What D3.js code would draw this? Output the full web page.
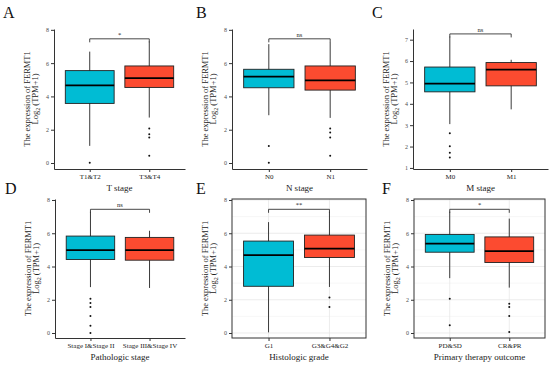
<!DOCTYPE html>
<html>
<head>
<meta charset="utf-8">
<script src="https://cdn.jsdelivr.net/npm/d3@7"></script>
<style>
  body { margin: 0; background: #fff; }
  text { font-family: "Liberation Serif", "DejaVu Serif", serif; }
</style>
</head>
<body>
<div id="chart"></div>
<script>
// panel letters, groups and titles
var letters = ["A", "B", "C", "D", "E", "F"];
var groups = [
    ["T1&T2", "T3&T4"],
    ["N0", "N1"],
    ["M0", "M1"],
    ["Stage I&Stage II", "Stage III&Stage IV"],
    ["G1", "G3&G4&G2"],
    ["PD&SD", "CR&PR"]
];
var xTitles = ["T stage", "N stage", "M stage", "Pathologic stage", "Histologic grade", "Primary therapy outcome"];
var sigLabels = ["*", "ns", "ns", "ns", "**", "*"];

// box stats per group: [lower whisker, q1, median, q3, upper whisker]
var statsA = [[1.03, 3.58, 4.66, 5.55, 6.69], [2.73, 4.54, 5.1, 5.83, 7.3]];
var statsB = [[2.87, 4.52, 5.19, 5.63, 7.14], [2.71, 4.38, 4.96, 5.83, 7.26]];
var statsC = [[3.05, 4.56, 4.94, 5.72, 7.15], [3.74, 4.84, 5.6, 5.93, 6.06]];
var statsD = [[2.76, 4.42, 4.98, 5.83, 7.3], [2.71, 4.38, 4.98, 5.75, 6.15]];
var statsE = [[0.04, 2.81, 4.68, 5.53, 6.67], [2.77, 4.54, 5.08, 5.89, 7.3]];
var statsF = [[3.3, 4.86, 5.38, 5.93, 7.3], [2.73, 4.24, 4.92, 5.78, 6.88]];

// outlier points per group
var outA = [[0.02], [2.07, 1.73, 1.53, 0.44]];
var outB = [[1.02, 0.02], [2.07, 1.83, 1.53, 0.44]];
var outC = [[2.62, 2.02, 1.71, 1.49], []];
var outD = [[2.06, 1.81, 1.57, 1.03, 0.44, 0.0], []];
var outE = [[], [2.13, 1.57]];
var outF = [[2.06, 0.46], [1.76, 1.57, 1.03, 0.06]];

var bracketVals = [7.46, 7.46, 7.27, 7.44, 7.44, 7.44];
var yTicksMain = [0, 2, 4, 6, 8];
var yTicksC = [1, 2, 3, 4, 5, 6, 7];
var yDomains = [[-0.36, 8.05], [-0.36, 8.05], [0.95, 7.5], [-0.3, 8.06], [-0.3, 8.06], [-0.3, 8.06]];

var allStats = [statsA, statsB, statsC, statsD, statsE, statsF];
var allOut = [outA, outB, outC, outD, outE, outF];
var fills = ["#00BCD4", "#FC4B30"];

var width = 550, height = 365;

// layout: plot area per panel
var lefts = [54, 232, 413, 55, 232, 414];
var rights = [185, 367, 548, 185, 366, 545];
var rowRange = [[169, 29], [338, 199]];
var letterPos = [[3, 18], [196, 18], [372, 18], [5, 194], [196, 194], [382, 194]];

var svg = d3.select("#chart").append("svg")
    .attr("width", width)
    .attr("height", height);

letters.forEach(function(letter, i) {
    var row = i < 3 ? 0 : 1;
    var framed = i >= 4;
    var left = lefts[i], right = rights[i];
    var bottom = rowRange[row][0], top = rowRange[row][1];

    var x = d3.scaleLinear().domain([0.4, 2.6]).range([left, right]);
    var y = d3.scaleLinear().domain(yDomains[i]).range([bottom, top]);
    var ticks = i === 2 ? yTicksC : yTicksMain;

    var g = svg.append("g");

    // panel letter
    svg.append("text")
        .attr("x", letterPos[i][0])
        .attr("y", letterPos[i][1])
        .attr("font-size", 16)
        .attr("fill", "#111")
        .text(letter);

    if (framed) {
        // grid for theme_bw panels
        var minor = d3.range(Math.ceil(yDomains[i][0]), Math.floor(yDomains[i][1]) + 1);
        g.selectAll(".grid-h").data(minor).enter().append("line")
            .attr("x1", left).attr("x2", right)
            .attr("y1", function(d) { return y(d); })
            .attr("y2", function(d) { return y(d); })
            .attr("stroke", function(d) { return d % 2 === 0 ? "#e4e4e4" : "#efefef"; })
            .attr("stroke-width", function(d) { return d % 2 === 0 ? 0.7 : 0.5; });
        g.selectAll(".grid-v").data([1, 2]).enter().append("line")
            .attr("x1", function(d) { return x(d); })
            .attr("x2", function(d) { return x(d); })
            .attr("y1", top).attr("y2", bottom)
            .attr("stroke", "#e4e4e4")
            .attr("stroke-width", 0.7);
    }

    var stats = allStats[i];
    var boxW = 0.82 * (x(2) - x(1));

    stats.forEach(function(s, k) {
        var cx = x(k + 1);
        // whisker
        g.append("line")
            .attr("x1", cx).attr("x2", cx)
            .attr("y1", y(s[0])).attr("y2", y(s[4]))
            .attr("stroke", "#3a3a3a")
            .attr("stroke-width", 1);
        // box
        g.append("rect")
            .attr("x", cx - boxW / 2)
            .attr("y", y(s[3]))
            .attr("width", boxW)
            .attr("height", y(s[1]) - y(s[3]))
            .attr("fill", fills[k])
            .attr("stroke", "#222")
            .attr("stroke-width", 0.9);
        // median
        g.append("line")
            .attr("x1", cx - boxW / 2).attr("x2", cx + boxW / 2)
            .attr("y1", y(s[2])).attr("y2", y(s[2]))
            .attr("stroke", "#000")
            .attr("stroke-width", 1.8);
        // outliers
        g.selectAll(".out" + k).data(allOut[i][k]).enter().append("circle")
            .attr("cx", cx)
            .attr("cy", function(d) { return y(d); })
            .attr("r", 1)
            .attr("fill", "#111");
    });

    // significance bracket
    var by = y(bracketVals[i]);
    g.append("path")
        .attr("d", "M" + x(1) + "," + (by + 3.5) + "V" + by + "H" + x(2) + "V" + (by + 3.5))
        .attr("fill", "none")
        .attr("stroke", "#333")
        .attr("stroke-width", 0.9);
    g.append("text")
        .attr("x", (x(1) + x(2)) / 2)
        .attr("y", by - 2)
        .attr("text-anchor", "middle")
        .attr("font-size", 6.5)
        .attr("fill", "#222")
        .text(sigLabels[i]);

    // axes
    var yAxis = d3.axisLeft(y).tickValues(ticks).tickSize(3).tickSizeOuter(0)
        .tickFormat(d3.format("d"));
    var xAxis = d3.axisBottom(x).tickValues([1, 2]).tickSize(3).tickSizeOuter(0)
        .tickFormat(function(d) { return groups[i][d - 1]; });

    var ya = svg.append("g").attr("transform", "translate(" + left + ",0)").call(yAxis);
    var xa = svg.append("g").attr("transform", "translate(0," + bottom + ")").call(xAxis);

    ya.selectAll("text").attr("font-size", 6).attr("fill", "#4d4d4d")
        .attr("font-family", "Liberation Serif").attr("x", -5);
    xa.selectAll("text").attr("font-size", 7).attr("fill", "#222")
        .attr("font-family", "Liberation Serif").attr("y", 5);
    ya.selectAll(".tick line").attr("stroke", "#333");
    xa.selectAll(".tick line").attr("stroke", "#333");

    if (framed) {
        ya.select(".domain").remove();
        xa.select(".domain").remove();
        svg.append("rect")
            .attr("x", left).attr("y", top)
            .attr("width", right - left).attr("height", bottom - top)
            .attr("fill", "none")
            .attr("stroke", "#333")
            .attr("stroke-width", 1);
    } else {
        ya.select(".domain").attr("stroke", "#333").attr("stroke-width", 1);
        xa.select(".domain").attr("stroke", "#333").attr("stroke-width", 1);
    }

    // x title
    svg.append("text")
        .attr("x", (left + right) / 2)
        .attr("y", bottom + 22)
        .attr("text-anchor", "middle")
        .attr("font-size", 9)
        .attr("fill", "#222")
        .text(xTitles[i]);

    // y title (two lines)
    var ymid = (top + bottom) / 2;
    svg.append("text")
        .attr("transform", "translate(" + (left - 24) + "," + ymid + ") rotate(-90)")
        .attr("text-anchor", "middle")
        .attr("font-size", 8.5)
        .attr("fill", "#222")
        .text("The expression  of FERMT1");
    var t2 = svg.append("text")
        .attr("transform", "translate(" + (left - 16) + "," + ymid + ") rotate(-90)")
        .attr("text-anchor", "middle")
        .attr("font-size", 8.5)
        .attr("fill", "#222");
    t2.append("tspan").text("Log");
    t2.append("tspan").attr("font-size", 6).attr("dy", 2).text("2");
    t2.append("tspan").attr("dy", -2).text(" (TPM+1)");
});
</script>
</body>
</html>
